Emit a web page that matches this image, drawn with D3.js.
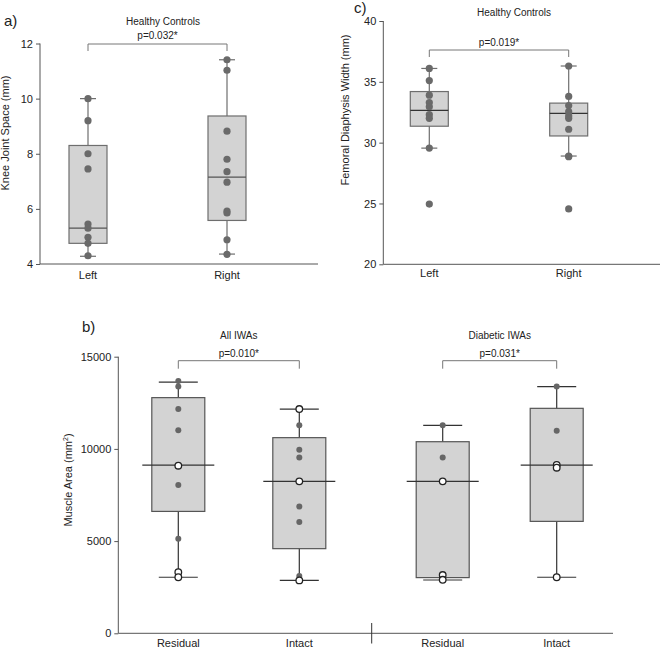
<!DOCTYPE html>
<html><head><meta charset="utf-8">
<script src="https://cdn.jsdelivr.net/npm/d3@7"></script>
<style>body{margin:0;background:#fff}svg{display:block}text{font-family:"Liberation Sans",Arial,sans-serif;fill:#222}</style>
</head><body>
<svg id="c" width="660" height="648"></svg>
<script>
// ---------- Panel a: Knee Joint Space (Healthy Controls) ----------
const kneeCategories = ["Left", "Right"];
const kneeLeftPoints  = [10.0, 9.2, 8.0, 7.45, 5.45, 5.3, 4.97, 4.75, 4.3];
const kneeRightPoints = [11.41, 11.03, 8.82, 7.8, 7.35, 6.97, 5.92, 5.85, 4.88, 4.35];
// box stats: [whiskerLow, q1, median, q3, whiskerHigh]
const kneeBoxStats = [[4.28, 4.75, 5.3, 8.3, 10.0], [4.36, 5.58, 7.15, 9.37, 11.41]];
const kneeTicks = [4, 6, 8, 10, 12];

// ---------- Panel c: Femoral Diaphysis Width (Healthy Controls) ----------
const femurCategories = ["Left", "Right"];
const femurLeftPoints  = [36.1, 35.1, 33.9, 33.3, 32.95, 32.3, 32.0, 29.55, 24.95];
const femurRightPoints = [36.3, 33.8, 33.05, 32.55, 32.2, 32.0, 31.1, 28.9, 28.85, 24.55];
const femurBoxStats = [[29.55, 31.35, 32.65, 34.2, 36.1], [28.9, 30.55, 32.4, 33.25, 36.3]];
const femurTicks = [20, 25, 30, 35, 40];

// ---------- Panel b: Muscle Area (IWAs) ----------
const muscleGroups = ["All IWAs", "Diabetic IWAs"];
const muscleCategories = ["Residual", "Intact"];
const muscleFilled = [
  [13680, 13380, 12160, 11010, 8040, 5130],   // All residual
  [11280, 9960, 9540, 6870, 6040, 3110],      // All intact
  [11280, 9540],                               // Diabetic residual
  [13380, 10990]                               // Diabetic intact
];
const muscleOpen = [
  [9090, 3310, 3040],
  [12160, 8240, 2870],
  [8240, 3160, 2900],
  [9130, 8980, 3040]
];
const muscleBoxStats = [
  [3040, 6610, 9120, 12780, 13620],
  [2870, 4590, 8240, 10610, 12160],
  [2890, 3020, 8240, 10390, 11280],
  [3040, 6070, 9120, 12200, 13380]
];
const muscleTicks = [0, 5000, 10000, 15000];
const pValues = ["p=0.032*", "p=0.019*", "p=0.010*", "p=0.031*"];

const svg = d3.select("#c");

function drawAxes(g, y, ticks, x0, x1, fmt) {
  const ax = g.append("g").attr("transform", `translate(${x0},0)`)
    .call(d3.axisLeft(y).tickValues(ticks).tickSize(4).tickPadding(3).tickFormat(fmt || d3.format("d")));
  ax.select(".domain").attr("stroke", "#555").attr("d", `M0,${y.range()[0]}V${y.range()[1]}`);
  ax.selectAll(".tick line").attr("stroke", "#555");
  ax.selectAll(".tick text").attr("font-size", 11).attr("fill", "#222")
    .style("font-family", '"Liberation Sans",Arial,sans-serif');
  g.append("line").attr("x1", x0).attr("x2", x1).attr("y1", y.range()[0]).attr("y2", y.range()[0])
    .attr("stroke", "#555").attr("stroke-width", 1);
}

function drawBox(g, cx, y, st, o) {
  const [wl, q1, med, q3, wh] = st;
  g.append("line").attr("x1", cx).attr("x2", cx).attr("y1", y(wl)).attr("y2", y(wh))
    .attr("stroke", o.whisker).attr("stroke-width", 1.2);
  g.append("rect").attr("x", cx - o.bw / 2).attr("width", o.bw)
    .attr("y", y(q3)).attr("height", y(q1) - y(q3))
    .attr("fill", "#d3d3d3").attr("stroke", o.stroke).attr("stroke-width", 1.2);
  g.append("line").attr("x1", cx - o.mw / 2).attr("x2", cx + o.mw / 2).attr("y1", y(med)).attr("y2", y(med))
    .attr("stroke", o.median).attr("stroke-width", 1.2);
  [wl, wh].forEach(v => g.append("line").attr("x1", cx - o.cw / 2).attr("x2", cx + o.cw / 2)
    .attr("y1", y(v)).attr("y2", y(v)).attr("stroke", o.whisker).attr("stroke-width", 1.2));
}

function drawBracket(g, xa, xb, yTop, drop, label, ly) {
  g.append("path").attr("d", `M${xa},${yTop + drop}V${yTop}H${xb}V${yTop + drop}`)
    .attr("fill", "none").attr("stroke", "#777").attr("stroke-width", 1);
  g.append("text").attr("x", (xa + xb) / 2).attr("y", ly).attr("text-anchor", "middle")
    .attr("font-size", 10).text(label);
}

function yLabel(g, x, y, txt) {
  const t = g.append("text").attr("transform", `translate(${x},${y}) rotate(-90)`)
    .attr("text-anchor", "middle").attr("font-size", 11);
  return t.text(txt);
}

// ===== Panel a =====
{
  const g = svg.append("g");
  const y = d3.scaleLinear().domain([4, 12]).range([264, 43.5]);
  const x = d3.scalePoint().domain(kneeCategories).range([88, 227]);
  drawAxes(g, y, kneeTicks, 40, 318);
  const opts = { bw: 38, mw: 38, cw: 16, stroke: "#6e6e6e", whisker: "#6e6e6e", median: "#555" };
  kneeCategories.forEach((c, i) => drawBox(g, x(c), y, kneeBoxStats[i], opts));
  [kneeLeftPoints, kneeRightPoints].forEach((pts, i) => {
    g.selectAll(null).data(pts).enter().append("circle")
      .attr("cx", x(kneeCategories[i])).attr("cy", d => y(d)).attr("r", 3.6).attr("fill", "#6a6a6a");
  });
  kneeCategories.forEach(c => g.append("text").attr("x", x(c)).attr("y", 279).attr("text-anchor", "middle")
    .attr("font-size", 11).text(c));
  g.append("text").attr("x", 163).attr("y", 25).attr("text-anchor", "middle").attr("font-size", 10).text("Healthy Controls");
  drawBracket(g, x("Left"), x("Right"), 44, 7, pValues[0], 39);
  yLabel(g, 9, 133, "Knee Joint Space (mm)");
  g.append("text").attr("x", 4).attr("y", 26).attr("font-size", 15).text("a)");
}

// ===== Panel c =====
{
  const g = svg.append("g");
  const y = d3.scaleLinear().domain([20, 40]).range([264.3, 21]);
  const x = d3.scalePoint().domain(femurCategories).range([429.3, 568.7]);
  drawAxes(g, y, femurTicks, 383.3, 660);
  const opts = { bw: 38, mw: 38, cw: 16, stroke: "#6e6e6e", whisker: "#6e6e6e", median: "#333" };
  femurCategories.forEach((c, i) => drawBox(g, x(c), y, femurBoxStats[i], opts));
  [femurLeftPoints, femurRightPoints].forEach((pts, i) => {
    g.selectAll(null).data(pts).enter().append("circle")
      .attr("cx", x(femurCategories[i])).attr("cy", d => y(d)).attr("r", 3.6).attr("fill", "#6a6a6a");
  });
  femurCategories.forEach(c => g.append("text").attr("x", x(c)).attr("y", 277).attr("text-anchor", "middle")
    .attr("font-size", 11).text(c));
  g.append("text").attr("x", 514).attr("y", 16).attr("text-anchor", "middle").attr("font-size", 10).text("Healthy Controls");
  drawBracket(g, x("Left"), x("Right"), 50, 7, pValues[1], 46);
  yLabel(g, 349, 110, "Femoral Diaphysis Width (mm)");
  g.append("text").attr("x", 354).attr("y", 13).attr("font-size", 15).text("c)");
}

// ===== Panel b =====
{
  const g = svg.append("g");
  const y = d3.scaleLinear().domain([0, 15000]).range([633.3, 356.7]);
  const groupX = [d3.scalePoint().domain(muscleCategories).range([178.3, 299.3]),
                  d3.scalePoint().domain(muscleCategories).range([442.7, 556.7])];
  drawAxes(g, y, muscleTicks, 118.3, 613);
  g.append("line").attr("x1", 371.7).attr("x2", 371.7).attr("y1", 623).attr("y2", 643.5)
    .attr("stroke", "#333").attr("stroke-width", 1);
  const opts = { bw: 53, mw: 72, cw: 39, stroke: "#555", whisker: "#333", median: "#333" };
  let k = 0;
  groupX.forEach((x, gi) => {
    muscleCategories.forEach(c => {
      const cx = x(c);
      drawBox(g, cx, y, muscleBoxStats[k], opts);
      g.selectAll(null).data(muscleFilled[k]).enter().append("circle")
        .attr("cx", cx).attr("cy", d => y(d)).attr("r", 3).attr("fill", "#666");
      g.selectAll(null).data(muscleOpen[k]).enter().append("circle")
        .attr("cx", cx).attr("cy", d => y(d)).attr("r", 3.3).attr("fill", "#fff")
        .attr("stroke", "#222").attr("stroke-width", 1.3);
      g.append("text").attr("x", cx).attr("y", 647).attr("text-anchor", "middle").attr("font-size", 11).text(c);
      k++;
    });
    const xa = x("Residual"), xb = x("Intact");
    g.append("text").attr("x", (xa + xb) / 2).attr("y", 339).attr("text-anchor", "middle")
      .attr("font-size", 10).text(muscleGroups[gi]);
    drawBracket(g, xa, xb, 360.7, 8, pValues[2 + gi], 357);
  });
  const yl = g.append("text").attr("transform", "translate(72,480) rotate(-90)")
    .attr("text-anchor", "middle").attr("font-size", 11);
  yl.append("tspan").text("Muscle Area (mm");
  yl.append("tspan").attr("font-size", 7).attr("dy", -4).text("2");
  yl.append("tspan").attr("dy", 4).text(")");
  g.append("text").attr("x", 82).attr("y", 332).attr("font-size", 15).text("b)");
}
</script>
</body></html>
